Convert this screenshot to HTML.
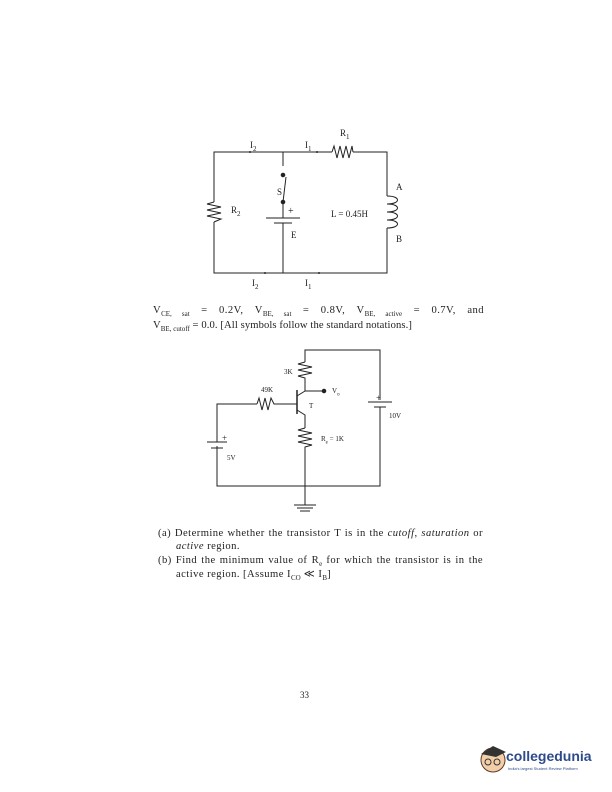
<!DOCTYPE html>
<html><head><meta charset="utf-8"><style>
html,body{margin:0;padding:0;background:#fff;}
body{width:612px;height:792px;position:relative;overflow:hidden;font-family:"Liberation Serif",serif;color:#222;}
.t{position:absolute;font-size:10px;white-space:nowrap;}
.p{font-size:10.6px;letter-spacing:0.45px;}
.j{text-align:justify;text-align-last:justify;white-space:normal;}
sub{font-size:7px;letter-spacing:0;}
</style></head><body>
<svg width="612" height="792" style="position:absolute;left:0;top:0" fill="none" stroke="#222" stroke-width="1">
<polyline points="214,202 214,152 332,152"/>
<polyline points="353,152 387,152 387,196"/>
<polyline points="387,228 387,273 214,273 214,222"/>
<polyline points="332,152 334,146 337,158 340,146 343,158 346,146 349,158 352,146 353,152"/>
<polyline points="214,202 207,204 221,207 207,210 221,213 207,216 221,219 214,222"/>
<path d="M387,196 c14,0 14,8 0,8 c14,0 14,8 0,8 c14,0 14,8 0,8 c14,0 14,8 0,8"/>
<line x1="283" y1="152" x2="283" y2="166"/>
<line x1="283" y1="202" x2="286" y2="177"/>
<circle cx="283" cy="175" r="1.8" fill="#222"/>
<circle cx="283" cy="202" r="1.8" fill="#222"/>
<line x1="283" y1="202" x2="283" y2="218"/>
<line x1="266" y1="218" x2="300" y2="218"/>
<line x1="274" y1="223" x2="292" y2="223"/>
<line x1="283" y1="223" x2="283" y2="273"/>
<g fill="#222" stroke="none">
<circle cx="250" cy="152" r="1"/><circle cx="317" cy="152" r="1"/>
<circle cx="265" cy="273" r="1"/><circle cx="319" cy="273" r="1"/>
</g>
<polyline points="305,362 305,350 380,350 380,400"/>
<line x1="368" y1="402" x2="392" y2="402"/>
<line x1="374" y1="407" x2="386" y2="407"/>
<polyline points="380,407 380,486 217,486 217,446"/>
<line x1="207" y1="442" x2="227" y2="442"/>
<line x1="211" y1="448" x2="223" y2="448"/>
<polyline points="217,442 217,404 257,404"/>
<polyline points="257,404 259,398 262,410 265,398 268,410 271,398 274,404 297,404"/>
<polyline points="305,362 298,364 312,367 298,370 312,373 298,376 305,378 305,391 297,396"/>
<line x1="305" y1="391" x2="324" y2="391"/>
<circle cx="324" cy="391" r="1.8" fill="#222"/>
<line x1="297" y1="390" x2="297" y2="414" stroke-width="1.5"/>
<polyline points="297,410 305,415 305,428"/>
<polyline points="305,428 298,430 312,433 298,436 312,439 298,442 312,445 305,447 305,505"/>
<line x1="294" y1="505" x2="316" y2="505"/>
<line x1="297" y1="508" x2="313" y2="508"/>
<line x1="300" y1="511" x2="310" y2="511"/>
</svg>
<div class="t" style="left:340px;top:128px;font-size:9px">R<sub>1</sub></div>
<div class="t" style="left:250px;top:140px;font-size:9px">I<sub>2</sub></div>
<div class="t" style="left:305px;top:140px;font-size:9px">I<sub>1</sub></div>
<div class="t" style="left:231px;top:205px;font-size:9px">R<sub>2</sub></div>
<div class="t" style="left:277px;top:187px;font-size:9px">S</div>
<div class="t" style="left:288px;top:206px;font-size:10px">+</div>
<div class="t" style="left:291px;top:230px;font-size:9px">E</div>
<div class="t" style="left:331px;top:209px;font-size:9px">L = 0.45H</div>
<div class="t" style="left:396px;top:182px;font-size:9px">A</div>
<div class="t" style="left:396px;top:234px;font-size:9px">B</div>
<div class="t" style="left:252px;top:278px;font-size:9px">I<sub>2</sub></div>
<div class="t" style="left:305px;top:278px;font-size:9px">I<sub>1</sub></div>
<div class="t p j" style="left:153px;top:305px;width:331px">V<sub>CE,&nbsp;sat</sub> = 0.2V, V<sub>BE,&nbsp;sat</sub> = 0.8V, V<sub>BE,&nbsp;active</sub> = 0.7V, and</div>
<div class="t p" style="left:153px;top:320px;letter-spacing:0.1px">V<sub>BE,&nbsp;cutoff</sub> = 0.0. [All symbols follow the standard notations.]</div>
<div class="t" style="left:284px;top:368px;font-size:7px">3K</div>
<div class="t" style="left:261px;top:386px;font-size:7px">49K</div>
<div class="t" style="left:332px;top:387px;font-size:7px">V<sub style="font-size:5px">o</sub></div>
<div class="t" style="left:309px;top:402px;font-size:7px">T</div>
<div class="t" style="left:376px;top:393px;font-size:9px">+</div>
<div class="t" style="left:389px;top:412px;font-size:7px">10V</div>
<div class="t" style="left:321px;top:435px;font-size:7px">R<sub style="font-size:5px">e</sub> = 1K</div>
<div class="t" style="left:222px;top:433px;font-size:9px">+</div>
<div class="t" style="left:227px;top:454px;font-size:7px">5V</div>
<div class="t p j" style="left:158px;top:528px;width:325px">(a) Determine whether the transistor T is in the <i>cutoff</i>, <i>saturation</i> or</div>
<div class="t p" style="left:176px;top:541px"><i>active</i> region.</div>
<div class="t p j" style="left:158px;top:555px;width:325px">(b) Find the minimum value of R<sub>e</sub> for which the transistor is in the</div>
<div class="t p" style="left:176px;top:568px">active region. [Assume I<sub>CO</sub> &#8810; I<sub>B</sub>]</div>
<div class="t" style="left:300px;top:690px;font-size:9px">33</div>
<svg width="40" height="40" style="position:absolute;left:476px;top:740px">
<circle cx="17" cy="20" r="12" fill="#f2cfa8" stroke="#5a3a2a"/>
<path d="M5,14 L17,6 L30,12 L20,17 Z" fill="#333"/>
<circle cx="12" cy="22" r="3" fill="none" stroke="#333"/><circle cx="21" cy="22" r="3" fill="none" stroke="#333"/>
</svg>
<div class="t" style="left:506px;top:748px;font-family:'Liberation Sans',sans-serif;font-size:14px;font-weight:bold;color:#2d4a8a">collegedunia</div>
<div class="t" style="left:508px;top:766px;font-family:'Liberation Sans',sans-serif;font-size:4px;color:#2d4a8a">India's largest Student Review Platform</div>
</body></html>
